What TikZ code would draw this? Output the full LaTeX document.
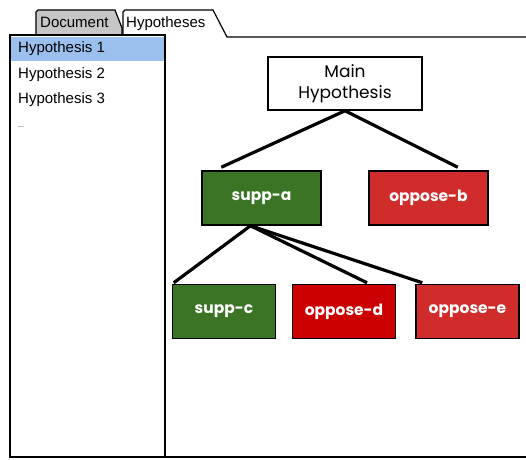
\documentclass[tikz,border=0pt]{standalone}
\usepackage{fontspec}
\setmainfont{Liberation Sans}
\newfontfamily\boxfont{Poppins}
\usetikzlibrary{positioning}
\definecolor{suppgreen}{HTML}{3A7424}
\definecolor{opposered}{HTML}{D12C2C}
\definecolor{opposedark}{HTML}{CC0000}
\definecolor{selblue}{HTML}{9CC0EE}
\definecolor{tabgray}{HTML}{C6C6C6}

\begin{document}
\begin{tikzpicture}[x=1pt,y=-1pt,
		mainbox/.style={draw,line width=1.5pt,fill=white,minimum width=154pt,minimum height=53pt,align=center,font=\boxfont\fontsize{17}{21}\selectfont},
		supp/.style={draw,line width=1.5pt,fill=suppgreen,text=white,minimum width=119pt,minimum height=54pt,font=\boxfont\bfseries\fontsize{15.5}{18}\selectfont},
		oppose/.style={supp,fill=opposered},
		small/.style={minimum width=103pt},
		item/.style={anchor=west,inner sep=0pt,font=\fontsize{15}{17}\selectfont},
		tab/.style={anchor=west,inner sep=0pt,font=\fontsize{15}{17}\selectfont},
		edge/.style={line width=3.2pt}]
		\useasboundingbox (0,0) rectangle (526,459);

		% tabs
		\draw[line width=1.2pt,fill=tabgray] (36,35) -- (36,12) -- (38,10) -- (115,10) -- (122,28) -- (122,35);
		\draw[line width=1.2pt] (123,35) -- (123,12) -- (125,10) -- (213,10) -- (227,37) -- (526,37);
		\node[tab] (tabdoc) at (40,22) {Document};
		\node[tab] (tabhyp) at (126,24) {Hypotheses};

		% list panel
		\fill[selblue] (11,37) rectangle (164,61);
		\draw[line width=2pt] (10,35) rectangle (165,457);
		\draw[line width=1.5pt] (165,457) -- (526,457);
		\node[item] (h1) at (18,49) {Hypothesis 1};
		\node[item] (h2) at (18,75) {Hypothesis 2};
		\node[item] (h3) at (18,100) {Hypothesis 3};
		\node[item,font=\scriptsize] (h4) at (18,127) {...};

		% tree
		\node[mainbox]						(main)		at (345,83.5)	{Main\\Hypothesis};
		\node[supp]							(suppa)		at (261.5,198)	{supp-a};
		\node[oppose]						(opposeb)	at (428.5,198)	{oppose-b};
		\node[supp,small]					(suppc)		at (224,311.5)	{supp-c};
		\node[oppose,small,fill=opposedark]	(opposed)	at (344,311.5)	{oppose-d};
		\node[oppose,small]					(opposee)	at (467.5,311.5){oppose-e};

		\draw[edge] (main.south) -- ([xshift=20pt,yshift=3pt]suppa.north west);
		\draw[edge] (main.south) -- ([xshift=-31pt,yshift=3pt]opposeb.north east);
		\draw[edge] ([xshift=-11pt]suppa.south) -- ([xshift=2pt,yshift=1pt]suppc.north west);
		\draw[edge] ([xshift=-11pt]suppa.south) -- ([xshift=23pt,yshift=1pt]opposed.north);
		\draw[edge] ([xshift=-11pt]suppa.south) -- ([xshift=7pt,yshift=1pt]opposee.north west);
	\end{tikzpicture}
\end{document}
